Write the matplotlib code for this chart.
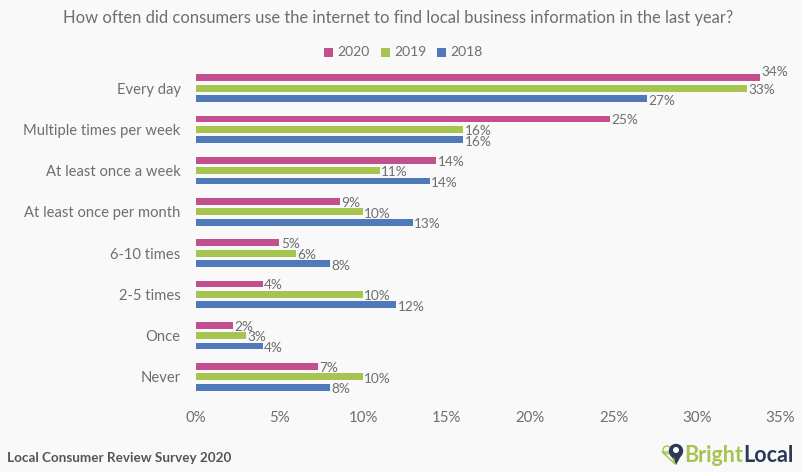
import numpy as np
import matplotlib
matplotlib.use('Agg')
import matplotlib.pyplot as plt
from matplotlib.patches import Ellipse, Polygon, Rectangle

# Data
categories = ['Every day', 'Multiple times per week', 'At least once a week',
              'At least once per month', '6-10 times', '2-5 times', 'Once', 'Never']
years = ['2020', '2019', '2018']
values_2020 = [33.8, 24.8, 14.4, 8.6, 5.0, 4.0, 2.2, 7.3]
values_2019 = [33.0, 16.0, 11.0, 10.0, 6.0, 10.0, 3.0, 10.0]
values_2018 = [27.0, 16.0, 14.0, 13.0, 8.0, 12.0, 4.0, 8.0]
labels_2020 = ['34%', '25%', '14%', '9%', '5%', '4%', '2%', '7%']
labels_2019 = ['33%', '16%', '11%', '10%', '6%', '10%', '3%', '10%']
labels_2018 = ['27%', '16%', '14%', '13%', '8%', '12%', '4%', '8%']
x_ticks = [0, 5, 10, 15, 20, 25, 30, 35]

W, H = 803, 472
BG = '#f9f9f9'
TEXT = '#6e6e6e'
colors = ['#c44f8e', '#a6c550', '#4f79b8']

plt.rcParams['font.family'] = ['Lato', 'DejaVu Sans']

fig = plt.figure(figsize=(W / 100, H / 100), dpi=100, facecolor=BG)

# axes placed in pixels
left, right, top, bottom = 196, 780.5, 67.5, 397.5
ax = fig.add_axes([left / W, 1 - bottom / H, (right - left) / W, (bottom - top) / H])
ax.set_facecolor(BG)

y = np.arange(len(categories))
pitch = 0.25
series = [(values_2020, labels_2020), (values_2019, labels_2019), (values_2018, labels_2018)]
for i, (vals, labs) in enumerate(series):
    pos = y + (i - 1) * pitch
    ax.barh(pos, vals, height=0.165, color=colors[i], label=years[i])
    for p, v, lab in zip(pos, vals, labs):
        # top label sits above the bar end, the plot edge pushes it up
        shift = -0.15 if lab == '34%' else 0.03 + 0.012 * i
        ax.text(v + 0.08, p + shift, lab, va='center', ha='left', fontsize=9.8, color=TEXT)

ax.set_xlim(0, 35)
ax.set_ylim(len(categories) - 0.5, -0.5)
ax.set_yticks(y)
ax.set_yticklabels(categories, fontsize=10.6, color=TEXT)
ax.set_xticks(x_ticks)
ax.set_xticklabels([f'{t}%' for t in x_ticks], fontsize=10.8, color=TEXT)
ax.tick_params(axis='both', length=0)
ax.tick_params(axis='y', pad=11)
ax.tick_params(axis='x', pad=10)
for s in ax.spines.values():
    s.set_visible(False)


def fx(px):
    return px / W


def fy(py):
    return 1 - py / H


fig.text(fx(398.5), fy(18), 'How often did consumers use the internet to find local business information in the last year?',
         ha='center', va='center', fontsize=11.9, color=TEXT)

# legend by hand so spacing follows the picture
for key_x, text_x, col, yr in zip([324, 381, 437], [337, 394, 450], colors, years):
    fig.add_artist(Rectangle((fx(key_x), fy(56.5)), 9 / W, 9 / H, transform=fig.transFigure,
                             color=col, lw=0))
    fig.text(fx(text_x), fy(52), yr, ha='left', va='center', fontsize=10, color=TEXT)

fig.text(fx(7), fy(458), 'Local Consumer Review Survey 2020', ha='left', va='center',
         fontsize=9.7, color='#555555', fontweight='bold')

# BrightLocal logo
logo_t = fig.text(fx(684), fy(456), 'Bright', ha='left', va='center', fontsize=15.5,
                  color='#a6c550', fontweight='bold')
fig.canvas.draw()
bb = logo_t.get_window_extent()
fig.text(bb.x1 / W, fy(456), 'Local', ha='left', va='center', fontsize=15.5,
         color='#2a3a55', fontweight='bold')

pin = '#2a3a55'
fig.add_artist(Polygon([[fx(670), fy(454)], [fx(682), fy(454)], [fx(676), fy(465)]],
                       closed=True, transform=fig.transFigure, color=pin, lw=0))
fig.add_artist(Polygon([[fx(662), fy(452)], [fx(672), fy(452)], [fx(675), fy(464)]],
                       closed=True, transform=fig.transFigure, fc='none', ec='#a6c550', lw=1))
for cx, cy, r, fc, ec in [(667, 450, 4, 'none', '#a6c550'), (676, 451, 6.5, pin, pin), (676, 450, 2.3, BG, BG)]:
    fig.add_artist(Ellipse((fx(cx), fy(cy)), 2 * r / W, 2 * r / H, transform=fig.transFigure,
                           fc=fc, ec=ec, lw=1))

fig.savefig('out.png', dpi=100, facecolor=BG)
